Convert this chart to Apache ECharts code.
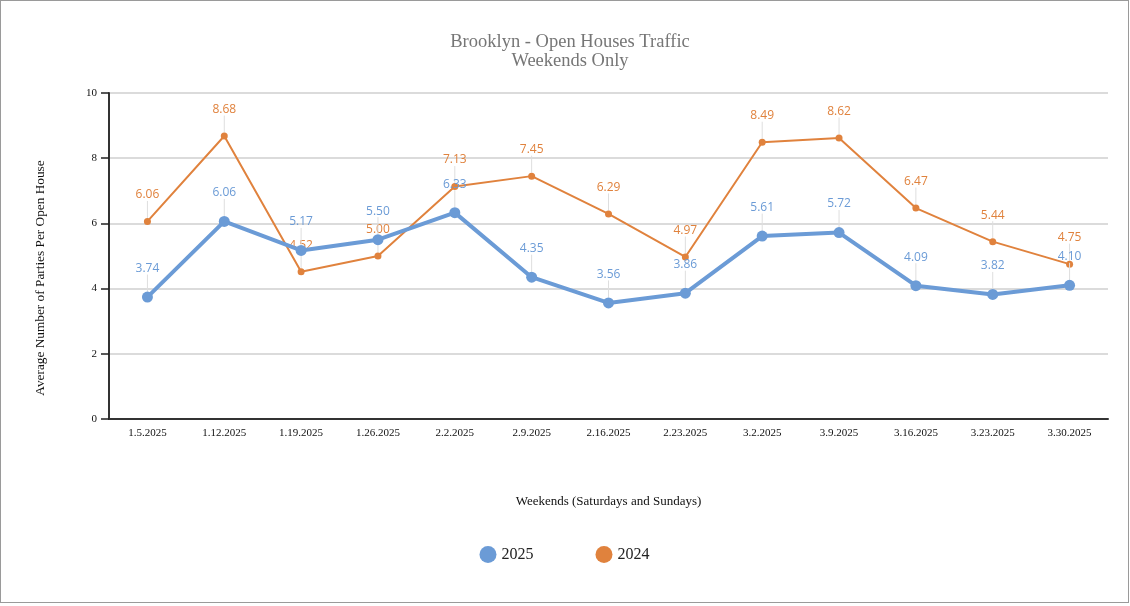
<!DOCTYPE html>
<html>
<head>
<meta charset="utf-8">
<script src="https://cdn.jsdelivr.net/npm/echarts@6/dist/echarts.min.js"></script>
<style>
html,body{margin:0;padding:0;background:#fff;}
#wrap{position:absolute;left:0;top:0;width:1127px;height:601px;border:1px solid #9a9a9a;}
#main{width:1127px;height:601px;}
</style>
</head>
<body>
<div id="wrap"><div id="main"></div></div>
<script>
const categories = ['1.5.2025','1.12.2025','1.19.2025','1.26.2025','2.2.2025','2.9.2025','2.16.2025','2.23.2025','3.2.2025','3.9.2025','3.16.2025','3.23.2025','3.30.2025'];
const values2025 = [3.74, 6.06, 5.17, 5.50, 6.33, 4.35, 3.56, 3.86, 5.61, 5.72, 4.09, 3.82, 4.10];
const values2024 = [6.06, 8.68, 4.52, 5.00, 7.13, 7.45, 6.29, 4.97, 8.49, 8.62, 6.47, 5.44, 4.75];
const yTicks = {min: 0, max: 10, interval: 2};

const serif = '"Liberation Serif", "DejaVu Serif", serif';
const sans = '"Open Sans", "Noto Sans", sans-serif';
const blue = '#6b9bd6';
const orange = '#e0823d';

const chart = echarts.init(document.getElementById('main'));
function lineSeries(name, data, color, width, sym) {
  return {
    name: name, type: 'line', data: data,
    symbol: 'circle', symbolSize: sym,
    lineStyle: {color: color, width: width},
    itemStyle: {color: color},
    label: {show: true, position: 'top', distance: 4, color: color,
      fontFamily: sans, fontSize: 12, formatter: p => p.value.toFixed(2)},
    labelLayout: {dy: -13},
    labelLine: {show: true, lineStyle: {color: '#dedede', width: 1}},
    emphasis: {disabled: true}, animation: false, z: width > 3 ? 3 : 2
  };
}
chart.setOption({
  animation: false,
  title: {text: 'Brooklyn - Open Houses Traffic\nWeekends Only', left: 564, textAlign: 'center', top: 27,
    textStyle: {fontFamily: serif, fontSize: 18.5, fontWeight: 'normal', color: '#767676', lineHeight: 18.5}},
  grid: {left: 108, right: 20, top: 92, bottom: 183},
  legend: {data: [{name: '2025', icon: 'circle'}, {name: '2024', icon: 'circle'}], bottom: 34, left: 'center',
    itemWidth: 17, itemHeight: 17, itemGap: 62,
    textStyle: {fontFamily: serif, fontSize: 16, color: '#222'}},
  xAxis: {type: 'category', data: categories, boundaryGap: true,
    name: 'Weekends (Saturdays and Sundays)', nameLocation: 'middle', nameGap: 76,
    nameTextStyle: {fontFamily: serif, fontSize: 13, color: '#111'},
    axisLine: {lineStyle: {color: '#333', width: 2}},
    axisTick: {show: false},
    axisLabel: {fontFamily: serif, fontSize: 11, color: '#111', margin: 9}},
  yAxis: {type: 'value', min: yTicks.min, max: yTicks.max, interval: yTicks.interval,
    name: 'Average Number of Parties Per Open House', nameLocation: 'middle', nameGap: 62,
    nameTextStyle: {fontFamily: serif, fontSize: 13.3, color: '#111', padding: [0, 44, 0, 0]},
    axisLine: {show: true, lineStyle: {color: '#333', width: 2}},
    axisTick: {show: true, length: 8, lineStyle: {color: '#222', width: 1.5}},
    axisLabel: {fontFamily: serif, fontSize: 11, color: '#111', margin: 12},
    splitLine: {lineStyle: {color: '#cfcfcf', width: 1.5}}},
  series: [
    lineSeries('2025', values2025, blue, 4, 11),
    lineSeries('2024', values2024, orange, 2, 7)
  ]
});
</script>
</body>
</html>
